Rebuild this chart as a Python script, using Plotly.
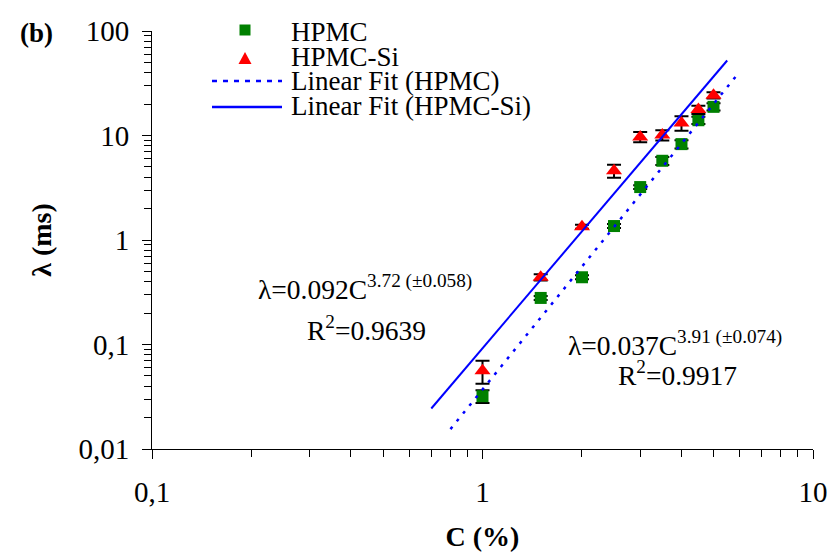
import plotly.graph_objects as go

# ---- data ----
conc = [1, 1.5, 2, 2.5, 3, 3.5, 4, 4.5, 5]
lam_hpmc = [0.032, 0.279, 0.44, 1.36, 3.21, 5.73, 8.27, 14.0, 18.8]
err_hpmc = [0.0045, 0.012, 0.02, 0.06, 0.14, 0.5, 0.75, 1.1, 1.5]
lam_hpmc_si = [0.056, 0.44, 1.34, 4.59, 9.7, 10.1, 13.2, 17.7, 24.3]
err_hpmc_si = [0.014, 0.03, 0.06, 0.65, 1.1, 1.15, 2.1, 1.6, 1.7]

fit_hpmc_c = [0.8, 6.0]
fit_hpmc_lam = [0.0155, 40.8]
fit_si_c = [0.7, 5.5]
fit_si_lam = [0.0244, 52.2]

legend_labels = ["HPMC", "HPMC-Si", "Linear Fit (HPMC)", "Linear Fit (HPMC-Si)"]
minor_ticks = [m * 10 ** e for e in (-2, -1, 0, 1) for m in range(2, 10)]

FONT = "Liberation Serif, Times New Roman, serif"
GREEN = "#008000"
RED = "#FF0000"
BLUE = "#0000FF"

fig = go.Figure()

fig.add_trace(go.Scatter(
    x=conc, y=lam_hpmc, mode="markers", name=legend_labels[0],
    marker=dict(symbol="square", size=12, color=GREEN),
    error_y=dict(type="data", array=err_hpmc, color="black", thickness=2, width=7),
    showlegend=False))
fig.add_trace(go.Scatter(
    x=conc, y=lam_hpmc_si, mode="markers", name=legend_labels[1],
    marker=dict(symbol="triangle-up", size=14, color=RED),
    error_y=dict(type="data", array=err_hpmc_si, color="black", thickness=2, width=7),
    showlegend=False))
fig.add_trace(go.Scatter(
    x=fit_hpmc_c, y=fit_hpmc_lam, mode="lines", name=legend_labels[2],
    line=dict(color=BLUE, width=2.5, dash="3px,7px"), showlegend=False))
fig.add_trace(go.Scatter(
    x=fit_si_c, y=fit_si_lam, mode="lines", name=legend_labels[3],
    line=dict(color=BLUE, width=2), showlegend=False))

# page body has an 8px margin: figure sits at (8, 8) on screen
OFF = 8
W, H = 835 - OFF, 560 - 2 * OFF
# plot area in screen pixels
SX0, SX1, SY0, SY1 = 152, 813, 31, 449
L, T = SX0 - OFF, SY0 - OFF
R, B = W - (SX1 - OFF), H - (SY1 - OFF)
PW, PH = SX1 - SX0, SY1 - SY0


def px(xs):
    return (xs - SX0) / PW


def py(ys):
    return (SY1 - ys) / PH


axis_common = dict(
    type="log", showgrid=False, zeroline=False, showline=True,
    linecolor="black", linewidth=1, ticks="outside", ticklen=9,
    tickcolor="black", tickwidth=1, dtick=1, ticklabeloverflow="allow",
    tickfont=dict(family=FONT, size=29, color="black"),
    minor=dict(ticks="outside", ticklen=7, tickcolor="black", tickwidth=1,
               tickmode="array", tickvals=minor_ticks, showgrid=False),
)

fig.update_xaxes(range=[-1, 1], ticklabelstandoff=8,
                 title=dict(text="<b>C (%)</b>", font=dict(family=FONT, size=28, color="black"), standoff=22),
                 **axis_common)
fig.update_yaxes(range=[-2, 2], ticklabelstandoff=7,
                 title=dict(text="<b>λ (ms)</b>", font=dict(family=FONT, size=28, color="black"), standoff=18),
                 **axis_common)

# ---- manual legend ----
shapes = [
    dict(type="rect", xref="paper", yref="paper", xsizemode="pixel", ysizemode="pixel",
         xanchor=px(245), yanchor=py(30), x0=-5.5, x1=5.5, y0=-5.5, y1=5.5,
         fillcolor=GREEN, line=dict(width=0)),
    dict(type="path", xref="paper", yref="paper", xsizemode="pixel", ysizemode="pixel",
         xanchor=px(245), yanchor=py(58), path="M -6.5,-6 L 6.5,-6 L 0,6 Z",
         fillcolor=RED, line=dict(width=0)),
    dict(type="line", xref="paper", yref="paper", x0=px(212), x1=px(282), y0=py(81), y1=py(81),
         line=dict(color=BLUE, width=2.5, dash="5px,6px")),
    dict(type="line", xref="paper", yref="paper", x0=px(212), x1=px(282), y0=py(107), y1=py(107),
         line=dict(color=BLUE, width=2.5)),
]
annotations = []
for lab, yc in zip(legend_labels, [32, 57, 81, 106]):
    annotations.append(dict(text=lab, xref="paper", yref="paper", x=px(289), y=py(yc),
                            xanchor="left", yanchor="middle", showarrow=False,
                            font=dict(family=FONT, size=27, color="black")))

eq_font = dict(family=FONT, size=27.5, color="black")
annotations += [
    dict(text="λ=0.092C<sup>3.72 (±0.058)</sup>", xref="paper", yref="paper",
         x=px(256), y=py(287), xanchor="left", yanchor="middle", showarrow=False, font=eq_font),
    dict(text="R<sup>2</sup>=0.9639", xref="paper", yref="paper",
         x=px(305), y=py(328), xanchor="left", yanchor="middle", showarrow=False, font=eq_font),
    dict(text="λ=0.037C<sup>3.91 (±0.074)</sup>", xref="paper", yref="paper",
         x=px(566), y=py(343), xanchor="left", yanchor="middle", showarrow=False, font=eq_font),
    dict(text="R<sup>2</sup>=0.9917", xref="paper", yref="paper",
         x=px(616), y=py(373), xanchor="left", yanchor="middle", showarrow=False, font=eq_font),
    dict(text="<b>(b)</b>", xref="paper", yref="paper",
         x=px(36), y=py(33), xanchor="center", yanchor="middle", showarrow=False,
         font=dict(family=FONT, size=27, color="black")),
]

fig.update_layout(
    width=W, height=H, margin=dict(l=L, r=R, t=T, b=B, autoexpand=False),
    paper_bgcolor="white", plot_bgcolor="white",
    separators=",.", showlegend=False,
    font=dict(family=FONT, color="black"),
    shapes=shapes, annotations=annotations,
)

fig.write_html("out.html")
